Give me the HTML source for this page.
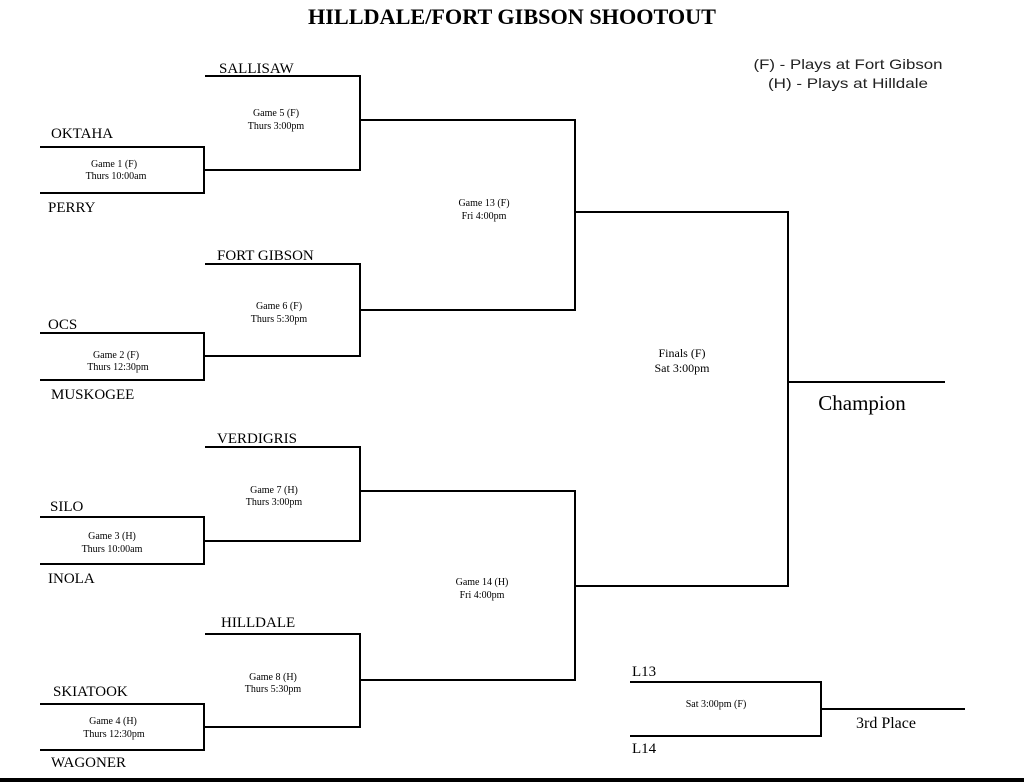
<!DOCTYPE html>
<html><head><style>
body{margin:0;width:1024px;height:782px;background:#fff;overflow:hidden;position:relative;font-family:"Liberation Serif",serif;}
svg{position:absolute;left:0;top:0}
</style></head><body>
<svg width="1024" height="782" viewBox="0 0 1024 782" font-family="Liberation Serif, serif">
<g stroke="#000" stroke-width="2" fill="none">
<polyline points="40,147 204,147 204,193 40,193"/>
<polyline points="205,76 360,76 360,170 204,170"/>
<polyline points="40,333 204,333 204,380 40,380"/>
<polyline points="205,264 360,264 360,356 204,356"/>
<polyline points="360,120 575,120 575,310 360,310"/>
<polyline points="40,517 204,517 204,564 40,564"/>
<polyline points="205,447 360,447 360,541 204,541"/>
<polyline points="40,704 204,704 204,750 40,750"/>
<polyline points="205,634 360,634 360,727 204,727"/>
<polyline points="360,491 575,491 575,680 360,680"/>
<polyline points="575,212 788,212 788,586 575,586"/>
<line x1="788" y1="382" x2="945" y2="382"/>
<polyline points="630,682 821,682 821,736 630,736"/>
<line x1="821" y1="709" x2="965" y2="709"/>
</g>
<rect x="0" y="778" width="1024" height="4" fill="#000"/>
<text x="512" y="24" text-anchor="middle" font-size="22" font-weight="bold" textLength="408" lengthAdjust="spacingAndGlyphs">HILLDALE/FORT GIBSON SHOOTOUT</text>
<g font-family="Liberation Sans, sans-serif" font-size="14" text-anchor="middle" fill="#222">
<text x="848" y="69" textLength="189" lengthAdjust="spacingAndGlyphs">(F) - Plays at Fort Gibson</text>
<text x="848" y="88" textLength="160" lengthAdjust="spacingAndGlyphs">(H) - Plays at Hilldale</text>
</g>
<g font-size="15">
<text x="219" y="73">SALLISAW</text>
<text x="51" y="138">OKTAHA</text>
<text x="48" y="212">PERRY</text>
<text x="217" y="260">FORT GIBSON</text>
<text x="48" y="329">OCS</text>
<text x="51" y="399">MUSKOGEE</text>
<text x="217" y="443">VERDIGRIS</text>
<text x="50" y="511">SILO</text>
<text x="48" y="583">INOLA</text>
<text x="221" y="627">HILLDALE</text>
<text x="53" y="696">SKIATOOK</text>
<text x="51" y="767">WAGONER</text>
<text x="632" y="676">L13</text>
<text x="632" y="753">L14</text>
</g>
<g font-size="10" text-anchor="middle">
<text x="114" y="167">Game 1 (F)</text><text x="116" y="179">Thurs 10:00am</text>
<text x="276" y="116">Game 5 (F)</text><text x="276" y="129">Thurs 3:00pm</text>
<text x="116" y="358">Game 2 (F)</text><text x="118" y="370">Thurs 12:30pm</text>
<text x="279" y="309">Game 6 (F)</text><text x="279" y="322">Thurs 5:30pm</text>
<text x="484" y="206">Game 13 (F)</text><text x="484" y="219">Fri 4:00pm</text>
<text x="112" y="539">Game 3 (H)</text><text x="112" y="552">Thurs 10:00am</text>
<text x="274" y="493">Game 7 (H)</text><text x="274" y="505">Thurs 3:00pm</text>
<text x="113" y="724">Game 4 (H)</text><text x="114" y="737">Thurs 12:30pm</text>
<text x="273" y="680">Game 8 (H)</text><text x="273" y="692">Thurs 5:30pm</text>
<text x="482" y="585">Game 14 (H)</text><text x="482" y="598">Fri 4:00pm</text>
<text x="716" y="707">Sat 3:00pm (F)</text>
</g>
<g font-size="12" text-anchor="middle">
<text x="682" y="357">Finals (F)</text><text x="682" y="372">Sat 3:00pm</text>
</g>
<text x="862" y="410" font-size="21" text-anchor="middle">Champion</text>
<text x="886" y="728" font-size="16" text-anchor="middle">3rd Place</text>
</svg>
</body></html>
